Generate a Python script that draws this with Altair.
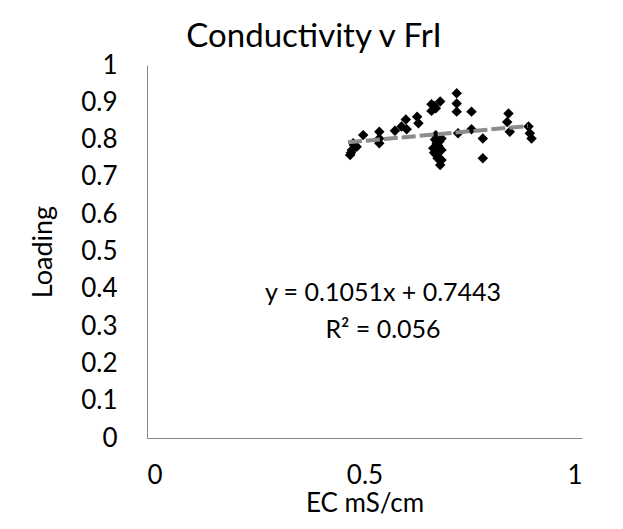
import altair as alt
import pandas as pd

# Scatter values (EC mS/cm vs Loading)
ec = [0.497, 0.474, 0.482, 0.467, 0.471, 0.476, 0.469,
      0.534, 0.534, 0.534,
      0.570, 0.595, 0.597, 0.621, 0.624, 0.585,
      0.654, 0.674, 0.664, 0.654, 0.660,
      0.664, 0.677, 0.666, 0.658, 0.677, 0.666, 0.677, 0.674, 0.670, 0.660, 0.672, 0.668, 0.662,
      0.712, 0.712, 0.712, 0.715, 0.746, 0.746, 0.772, 0.772,
      0.831, 0.828, 0.834,
      0.877, 0.880, 0.884]
loading = [0.812, 0.790, 0.781, 0.759, 0.772, 0.785, 0.765,
           0.821, 0.803, 0.790,
           0.824, 0.854, 0.828, 0.861, 0.844, 0.835,
           0.895, 0.902, 0.884, 0.877, 0.890,
           0.812, 0.803, 0.790, 0.777, 0.772, 0.759, 0.745, 0.732, 0.783, 0.765, 0.795, 0.750, 0.800,
           0.924, 0.897, 0.875, 0.817, 0.875, 0.828, 0.803, 0.750,
           0.870, 0.847, 0.821,
           0.835, 0.817, 0.803]

# Trendline as stated on the chart
slope = 0.1051
intercept = 0.7443
trend_x = [0.462, 0.876]

eq_text = ["y = 0.1051x + 0.7443", "R² = 0.056"]
eq_x = [0.5425, 0.5425]
eq_y = [0.389, 0.290]

chart_title = ["Conductivity v FrI"]

x_ticks = [0, 0.5, 1]
y_ticks = [0, 0.1, 0.2, 0.3, 0.4, 0.5, 0.6, 0.7, 0.8, 0.9, 1]

FONT = "Lato"

pts = pd.DataFrame({"ec": ec, "loading": loading})
trend = pd.DataFrame({"ec": trend_x})
ann = pd.DataFrame({"x": eq_x, "y": eq_y, "t": eq_text})
ttl = pd.DataFrame({"t": chart_title})

xscale = alt.Scale(domain=[0, 1], nice=False, zero=False)
yscale = alt.Scale(domain=[0, 1], nice=False, zero=False)

x_axis = alt.Axis(values=x_ticks, format="~g", title="EC mS/cm",
                  labelPadding=24, titlePadding=2, titleFontSize=26,
                  labelOverlap=False)
y_axis = alt.Axis(values=y_ticks, format=".1~f", title="Loading",
                  labelPadding=30, titlePadding=23, labelOverlap=False)

points = alt.Chart(pts).mark_point(
    shape="diamond", filled=True, color="black", size=110, opacity=1, strokeWidth=0
).encode(
    x=alt.X("ec:Q", scale=xscale, axis=x_axis),
    y=alt.Y("loading:Q", scale=yscale, axis=y_axis),
)

line = alt.Chart(trend).transform_calculate(
    fit=f"{intercept} + {slope} * datum.ec"
).mark_line(color="#8c8c8c", strokeWidth=4, strokeDash=[14, 4]).encode(
    x=alt.X("ec:Q", scale=xscale, axis=x_axis),
    y=alt.Y("fit:Q", scale=yscale, axis=y_axis),
)

text = alt.Chart(ann).mark_text(
    font=FONT, fontSize=25, color="black", baseline="middle", align="center"
).encode(
    x=alt.X("x:Q", scale=xscale, axis=x_axis),
    y=alt.Y("y:Q", scale=yscale, axis=y_axis),
    text="t:N",
)

title = alt.Chart(ttl).mark_text(
    font=FONT, fontSize=33, color="black", baseline="middle", align="center"
).encode(x=alt.value(167), y=alt.value(-28), text="t:N")

chart = alt.layer(points, line, text, title).properties(
    width=435,
    height=373,
    padding={"left": 139, "top": 57, "right": 26, "bottom": 81},
    autosize=alt.AutoSizeParams(type="none"),
).configure_view(stroke=None).configure_axis(
    grid=False, ticks=False, tickSize=0, labelOverlap=False,
    domainColor="#898989", domainWidth=1,
    labelFont=FONT, labelFontSize=26, labelColor="black",
    titleFont=FONT, titleFontSize=27, titleColor="black", titleFontWeight="normal",
)

chart.save("out.html", embed_options={"renderer": "svg", "actions": False})
